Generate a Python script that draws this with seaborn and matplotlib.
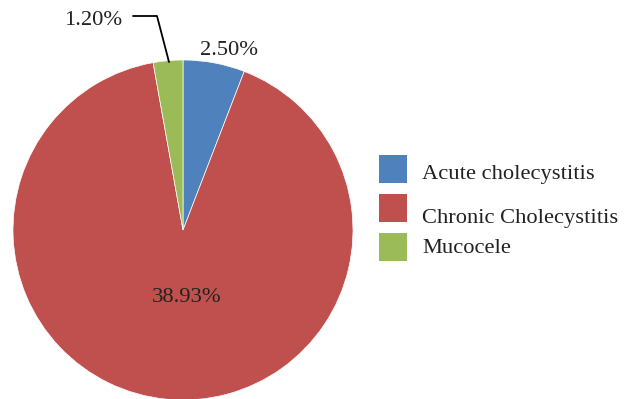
import matplotlib
matplotlib.use("Agg")
import matplotlib.pyplot as plt
import seaborn as sns
from matplotlib.patches import Rectangle

categories = ["Acute cholecystitis", "Chronic Cholecystitis", "Mucocele"]
values = [2.50, 38.93, 1.20]
labels = ["2.50%", "38.93%", "1.20%"]
colors = ["#4F81BD", "#C0504D", "#9BBB59"]

sns.set_style("white")
plt.rcParams["font.family"] = ["Liberation Serif", "DejaVu Serif"]

W, H = 629, 399
fig = plt.figure(figsize=(W / 100, H / 100), dpi=100)
ax = fig.add_axes([0, 0, 1, 1])

cx, cy, r = 183, H - 230, 170
wedges, _ = ax.pie(values, colors=colors, startangle=90, counterclock=False,
                   center=(cx, cy), radius=r, frame=True,
                   wedgeprops=dict(linewidth=0.5, edgecolor="white"))
ax.set_xlim(0, W)
ax.set_ylim(0, H)
ax.set_aspect("equal")
ax.axis("off")

fs = 16.2
tc = "#222222"
ax.text(229, H - 55, labels[0], fontsize=fs, ha="center", va="baseline", color=tc)
ax.text(187, H - 302, labels[1], fontsize=fs, ha="center", va="baseline", color=tc)
ax.text(122, H - 25, labels[2], fontsize=fs, ha="right", va="baseline", color=tc)
ax.plot([133, 157, 169], [H - 16, H - 16, H - 62], color="black", lw=1.3)

# legend
box_ys = [169, 208, 247]
text_ys = [179, 223, 253]
for cat, col, by, ty in zip(categories, colors, box_ys, text_ys):
    ax.add_patch(Rectangle((379, H - by - 14), 28, 28, facecolor=col, edgecolor="none"))
    ax.text(422, H - ty, cat, fontsize=fs, ha="left", va="baseline", color=tc)

fig.savefig("out.png", dpi=100)
